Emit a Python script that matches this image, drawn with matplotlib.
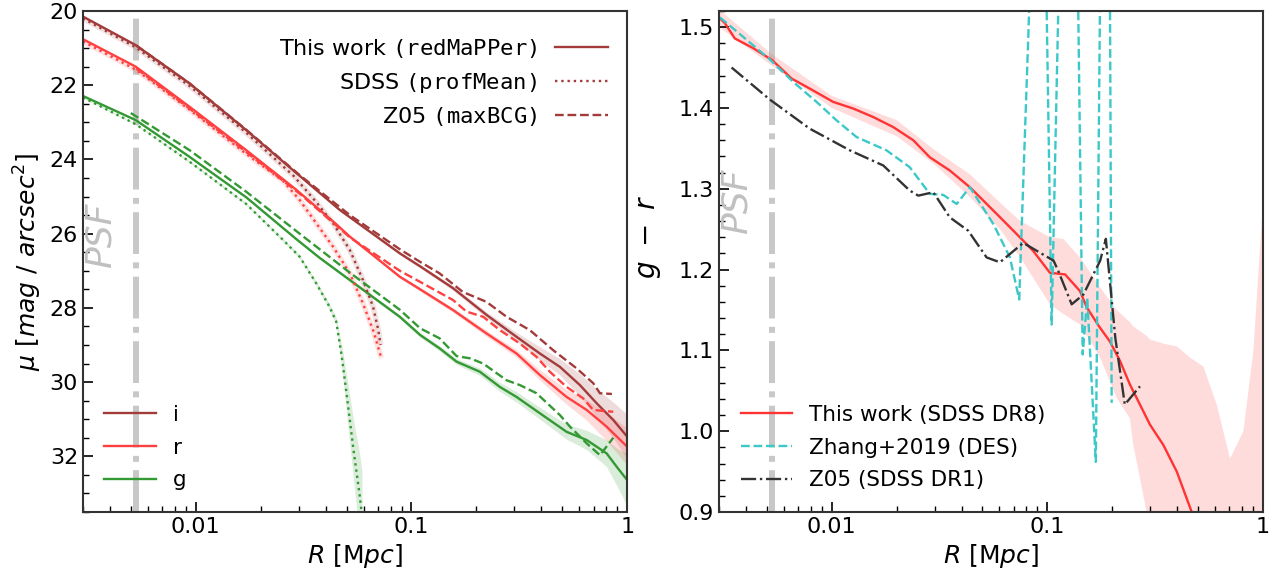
import matplotlib
matplotlib.use("Agg")
import numpy as np
import matplotlib.pyplot as plt
from matplotlib import ticker

# ---- left panel: surface brightness profiles (R in Mpc, mu in mag/arcsec^2)
i_R = [0.003, 0.00527, 0.00936, 0.01714, 0.0293, 0.0465, 0.0883, 0.1097, 0.156, 0.223, 0.307, 0.394, 0.488, 0.604, 0.722, 0.862, 1.0]
i_mu = [20.15, 20.92, 21.95, 23.21, 24.37, 25.36, 26.53, 26.88, 27.47, 28.19, 28.78, 29.23, 29.59, 30.08, 30.57, 31.02, 31.47]
i_err = [0.02, 0.02, 0.02, 0.02, 0.03, 0.03, 0.04, 0.05, 0.06, 0.08, 0.12, 0.18, 0.22, 0.3, 0.38, 0.48, 0.6]

r_R = [0.003, 0.00527, 0.00936, 0.01714, 0.0293, 0.0449, 0.0518, 0.0883, 0.1097, 0.156, 0.223, 0.307, 0.394, 0.524, 0.649, 0.803, 1.0]
r_mu = [20.76, 21.50, 22.58, 23.75, 24.82, 25.75, 26.08, 27.16, 27.5, 28.06, 28.69, 29.23, 29.81, 30.40, 30.75, 31.2, 31.74]
r_err = [0.02, 0.02, 0.02, 0.02, 0.03, 0.03, 0.03, 0.04, 0.05, 0.06, 0.08, 0.1, 0.14, 0.2, 0.28, 0.38, 0.5]

g_R = [0.003, 0.00527, 0.00936, 0.01714, 0.0293, 0.0375, 0.0518, 0.0883, 0.1097, 0.135, 0.162, 0.2075, 0.257, 0.307, 0.394, 0.524, 0.649, 0.803, 0.894, 1.0]
g_mu = [22.29, 22.94, 23.93, 25.02, 26.15, 26.65, 27.25, 28.24, 28.73, 29.09, 29.45, 29.72, 30.13, 30.40, 30.84, 31.34, 31.56, 31.92, 32.28, 32.64]
g_err = [0.02, 0.02, 0.02, 0.03, 0.03, 0.03, 0.04, 0.05, 0.06, 0.07, 0.08, 0.1, 0.12, 0.14, 0.16, 0.2, 0.26, 0.36, 0.5, 0.7]

# SDSS profMean
i_sd_R = [0.003, 0.00527, 0.00936, 0.01714, 0.0285, 0.0362, 0.0433, 0.0518, 0.0596, 0.0664, 0.0702, 0.072]
i_sd_mu = [20.2, 20.98, 22.02, 23.28, 24.45, 25.15, 25.72, 26.44, 27.25, 27.97, 28.6, 29.0]
r_sd_R = [0.003, 0.00527, 0.00936, 0.01714, 0.0254, 0.0303, 0.0362, 0.0433, 0.0518, 0.0596, 0.0664, 0.0725]
r_sd_mu = [20.82, 21.58, 22.66, 23.85, 24.58, 25.09, 25.72, 26.35, 27.07, 27.88, 28.6, 29.35]
g_sd_R = [0.003, 0.00527, 0.00936, 0.01714, 0.0254, 0.0303, 0.0362, 0.0417, 0.0448, 0.0475, 0.050, 0.0538, 0.0574, 0.059]
g_sd_mu = [22.33, 23.05, 24.06, 25.2, 26.17, 26.62, 27.34, 27.97, 28.37, 29.3, 30.3, 31.8, 33.0, 33.6]
g_sd_err = [0.02, 0.02, 0.03, 0.03, 0.04, 0.05, 0.06, 0.08, 0.1, 0.3, 0.5, 0.8, 1.1, 1.2]

# Z05 maxBCG
i_z_R = [0.0053, 0.00936, 0.01714, 0.0303, 0.0518, 0.0883, 0.1097, 0.135, 0.173, 0.223, 0.276, 0.354, 0.454, 0.583, 0.696, 0.748, 0.85]
i_z_mu = [20.93, 21.95, 23.2, 24.42, 25.5, 26.42, 26.76, 27.07, 27.57, 27.84, 28.24, 28.6, 29.14, 29.63, 30.03, 30.3, 30.32]
r_z_R = [0.0053, 0.00936, 0.01714, 0.0303, 0.0518, 0.0883, 0.1097, 0.156, 0.18, 0.215, 0.257, 0.318, 0.38, 0.438, 0.524, 0.626, 0.696, 0.862]
r_z_mu = [21.55, 22.63, 23.8, 24.92, 26.1, 27.0, 27.3, 27.79, 28.1, 28.24, 28.6, 28.96, 29.32, 29.72, 30.13, 30.44, 30.75, 30.8]
g_z_R = [0.005, 0.00936, 0.01714, 0.0303, 0.0518, 0.0883, 0.1097, 0.135, 0.162, 0.187, 0.215, 0.276, 0.318, 0.38, 0.488, 0.543, 0.649, 0.748, 0.862]
g_z_mu = [22.75, 23.75, 24.87, 26.0, 27.05, 28.05, 28.55, 28.82, 29.3, 29.36, 29.5, 29.95, 30.08, 30.3, 30.89, 31.2, 31.65, 31.97, 31.5]

# ---- right panel: g - r colour profiles
dr8_R = [0.003, 0.00319, 0.00355, 0.00432, 0.0053, 0.0065, 0.0079, 0.01015, 0.01257, 0.01556, 0.01927, 0.0239, 0.0285, 0.0353, 0.0437, 0.0582, 0.0746, 0.0861, 0.1029, 0.1209, 0.1418, 0.1526, 0.1757, 0.1953, 0.2175, 0.2416, 0.2998, 0.3455, 0.399, 0.468, 0.53, 0.6115, 0.705, 0.813, 1.0]
dr8_gr = [1.512, 1.505, 1.486, 1.474, 1.459, 1.4365, 1.424, 1.4075, 1.3993, 1.3888, 1.3764, 1.36, 1.339, 1.3226, 1.302, 1.269, 1.24, 1.223, 1.196, 1.194, 1.1735, 1.153, 1.128, 1.111, 1.087, 1.058, 1.008, 0.983, 0.95, 0.90, 0.86, 0.82, 0.78, 0.74, 0.68]
band_R = [0.003, 0.0053, 0.01, 0.02, 0.03, 0.0437, 0.0603, 0.075, 0.1029, 0.1186, 0.142, 0.176, 0.21, 0.2416, 0.25, 0.289, 0.2998, 0.35, 0.399, 0.46, 0.53, 0.6115, 0.705, 0.813, 0.905, 1.0]
band_lo = [1.50, 1.452, 1.40, 1.365, 1.33, 1.29, 1.25, 1.215, 1.157, 1.145, 1.132, 1.091, 1.041, 1.016, 0.985, 0.90, 0.88, 0.8, 0.75, 0.7, 0.65, 0.6, 0.6, 0.6, 0.6, 0.6]
band_hi = [1.522, 1.466, 1.415, 1.385, 1.348, 1.318, 1.283, 1.26, 1.24, 1.238, 1.215, 1.178, 1.15, 1.135, 1.13, 1.118, 1.1135, 1.108, 1.105, 1.091, 1.08, 1.033, 0.966, 1.0, 1.10, 1.28]

zh_R = [0.00303, 0.00388, 0.00509, 0.00662, 0.0085, 0.01052, 0.01303, 0.01796, 0.0230, 0.0285, 0.0329, 0.038, 0.0437, 0.0562, 0.0625, 0.0671, 0.0741, 0.0937, 0.1048, 0.1284, 0.146, 0.1533, 0.168, 0.189, 0.199]
zh_gr = [1.512, 1.488, 1.4614, 1.4323, 1.4075, 1.3847, 1.364, 1.3475, 1.3267, 1.2937, 1.2924, 1.2812, 1.302, 1.2564, 1.2316, 1.2149, 1.163, 1.95, 1.132, 2.25, 1.095, 1.165, 0.962, 2.46, 1.035]

z05_R = [0.00343, 0.00516, 0.0079, 0.01214, 0.01734, 0.023, 0.0252, 0.0296, 0.0353, 0.043, 0.0523, 0.0603, 0.0774, 0.107, 0.1126, 0.1298, 0.147, 0.176, 0.187, 0.207, 0.229, 0.2693]
z05_gr = [1.450, 1.4104, 1.3744, 1.3475, 1.3288, 1.2978, 1.2915, 1.2957, 1.2646, 1.248, 1.215, 1.209, 1.233, 1.211, 1.198, 1.157, 1.169, 1.211, 1.238, 1.115, 1.033, 1.0555]

psf_R = 0.0053

c_i = "#a33b3b"
c_r = "#ff4040"
c_g = "#339933"
psf_style = dict(color="#c8c8c8", lw=4.3, ls=(0, (7, 1.4, 1, 1.4)), zorder=0)

fig = plt.figure(figsize=(12.82, 5.78), dpi=100)
ax1 = fig.add_axes([0.0647, 0.1142, 0.4245, 0.8668])
ax2 = fig.add_axes([0.5609, 0.1142, 0.4241, 0.8668])

# left panel
for R, mu, err, c in [(i_R, i_mu, i_err, c_i), (r_R, r_mu, r_err, c_r), (g_R, g_mu, g_err, c_g)]:
    mu = np.array(mu); err = np.array(err)
    ax1.fill_between(R, mu - err, mu + err, color=c, alpha=0.18, lw=0)
ax1.fill_between(g_sd_R, np.array(g_sd_mu) - np.array(g_sd_err), np.array(g_sd_mu) + np.array(g_sd_err),
                 color=c_g, alpha=0.18, lw=0)
for R, mu, c in [(i_sd_R, i_sd_mu, c_i), (r_sd_R, r_sd_mu, c_r)]:
    ax1.plot(R, mu, color=c, lw=4, alpha=0.15, solid_capstyle="butt")

l_i, = ax1.plot(i_R, i_mu, color=c_i, lw=1.7)
l_r, = ax1.plot(r_R, r_mu, color=c_r, lw=1.7)
l_g, = ax1.plot(g_R, g_mu, color=c_g, lw=1.7)
ax1.plot(i_sd_R, i_sd_mu, color=c_i, lw=1.7, ls=":")
ax1.plot(r_sd_R, r_sd_mu, color=c_r, lw=1.7, ls=":")
ax1.plot(g_sd_R, g_sd_mu, color=c_g, lw=1.7, ls=":")
ax1.plot(i_z_R, i_z_mu, color=c_i, lw=1.7, ls="--")
ax1.plot(r_z_R, r_z_mu, color=c_r, lw=1.7, ls="--")
ax1.plot(g_z_R, g_z_mu, color=c_g, lw=1.7, ls="--")
ax1.axvline(psf_R, **psf_style)
ax1.text(0.00361, 26.05, "PSF", rotation=90, fontsize=26, style="italic", color="#c0c0c0",
         ha="center", va="center")

ax1.set_xscale("log")
ax1.set_xlim(0.003, 1)
ax1.set_ylim(33.5, 20)
ax1.yaxis.set_major_locator(ticker.MultipleLocator(2))
ax1.yaxis.set_minor_locator(ticker.MultipleLocator(0.5))
ax1.set_xlabel(r"$R$ [M$pc$]", fontsize=18)
ax1.set_ylabel(r"$\mu\ [mag\ /\ arcsec^2]$", fontsize=18)

h1, = ax1.plot([], [], color=c_i, lw=1.7)
h2, = ax1.plot([], [], color=c_i, lw=1.7, ls=":")
h3, = ax1.plot([], [], color=c_i, lw=1.7, ls="--")
leg1 = ax1.legend([h1, h2, h3],
                  [r"This work $\mathtt{(redMaPPer)}$", r"SDSS $\mathtt{(profMean)}$", r"Z05 $\mathtt{(maxBCG)}$"],
                  loc="upper right", bbox_to_anchor=(0.982, 0.966), borderaxespad=0,
                  markerfirst=False, frameon=False, fontsize=16, handlelength=2.4, labelspacing=0.48)
ax1.add_artist(leg1)
ax1.legend([l_i, l_r, l_g], ["i", "r", "g"], loc="lower left", frameon=False, fontsize=15.5,
           handlelength=2.4, labelspacing=0.6, borderaxespad=0.6)

# right panel
ax2.fill_between(band_R, band_lo, band_hi, color="#ff6060", alpha=0.22, lw=0)
ax2.plot(dr8_R, dr8_gr, color="#ff3333", lw=1.7, label="This work (SDSS DR8)")
ax2.plot(zh_R, zh_gr, color="#3cc8c8", lw=1.7, ls="--", label="Zhang+2019 (DES)")
ax2.plot(z05_R, z05_gr, color="#333333", lw=1.7, ls="-.", label="Z05 (SDSS DR1)")
ax2.axvline(psf_R, **psf_style)
ax2.text(0.0036, 1.284, "PSF", rotation=90, fontsize=26, style="italic", color="#c0c0c0",
         ha="center", va="center")
ax2.set_xscale("log")
ax2.set_xlim(0.003, 1)
ax2.set_ylim(0.9, 1.52)
ax2.yaxis.set_major_locator(ticker.MultipleLocator(0.1))
ax2.yaxis.set_minor_locator(ticker.MultipleLocator(0.02))
ax2.yaxis.set_major_formatter(ticker.FormatStrFormatter("%.1f"))
ax2.set_xlabel(r"$R$ [M$pc$]", fontsize=18)
ax2.set_ylabel(r"$g\ -\ r$", fontsize=20)
ax2.yaxis.set_label_coords(-0.103, 0.55)
ax2.legend(loc="lower left", frameon=False, fontsize=15.5, handlelength=2.4, labelspacing=0.6,
           borderaxespad=0.6)

for ax in (ax1, ax2):
    ax.xaxis.set_major_formatter(ticker.FuncFormatter(lambda v, p: f"{v:g}"))
    ax.tick_params(which="both", direction="in", labelsize=16)
    ax.tick_params(which="major", length=7, width=1.2)
    ax.tick_params(which="minor", length=4, width=1)
    for s in ax.spines.values():
        s.set_linewidth(1.5)
        s.set_color("#333333")

fig.savefig("out.png", dpi=100)
